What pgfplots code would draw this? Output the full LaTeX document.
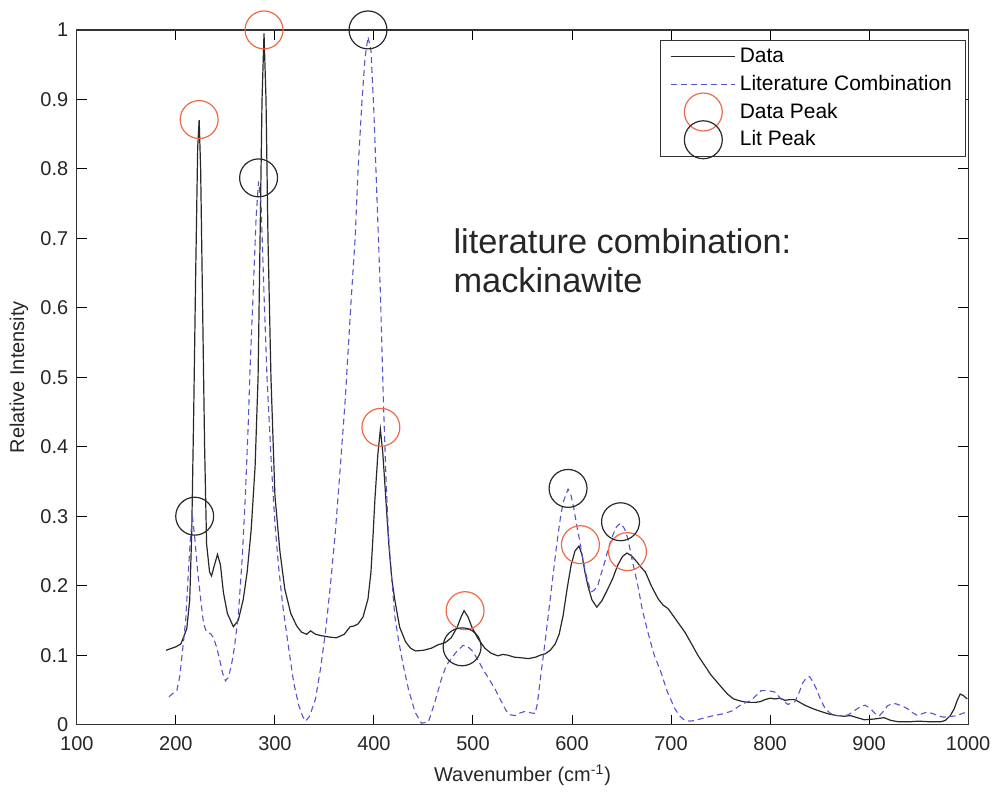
\documentclass[border=0pt]{standalone}
\usepackage{fontspec}
\setmainfont{Liberation Sans}
\usepackage{pgfplots}
\pgfplotsset{compat=1.18}
\definecolor{datac}{RGB}{40,40,40}
\definecolor{litc}{RGB}{85,85,205}
\definecolor{peakred}{RGB}{240,105,70}
\pgfplotsset{
  linelegend/.style={legend image code/.code={\draw[##1] (0pt,0pt) -- (32pt,0pt);}},
  marklegend/.style={legend image code/.code={\draw[overlay, mark repeat=2, mark phase=2, ##1] plot coordinates {(0pt,0pt) (16pt,0pt) (32pt,0pt)};\coordinate (la) at (0pt,0pt);\coordinate (lb) at (32pt,0pt);}},
}
\begin{document}
\begin{tikzpicture}
\begin{axis}[
  scale only axis, width=446.5pt, height=348pt, at={(0,0)}, anchor=south west,
  xmin=100, xmax=1000, ymin=0, ymax=1,
  xtick={100,200,300,400,500,600,700,800,900,1000},
  xticklabels={100,200,300,400,500,600,700,800,900,1000},
  ytick={0,0.1,0.2,0.3,0.4,0.5,0.6,0.7,0.8,0.9,1},
  yticklabels={0,0.1,0.2,0.3,0.4,0.5,0.6,0.7,0.8,0.9,1},
  /pgf/number format/assume math mode=true,
  /pgf/number format/1000 sep={},
  tick align=inside, major tick length=5pt,
  tick style={black, line width=0.5pt},
  axis line style={black!80, line width=0.6pt},
  tick label style={font=\fontsize{10}{12}\selectfont, black!85},
  xticklabel style={yshift=-2.5pt},
  yticklabel style={xshift=-0.8pt},
  every axis x label/.style={at={(axis description cs:0.5,-0.073)}, anchor=center},
  every axis y label/.style={at={(axis description cs:-0.065,0.5)}, rotate=90, anchor=center},
  label style={font=\fontsize{10}{12}\selectfont, black!85},
  xlabel={Wavenumber (cm\textsuperscript{-1})},
  ylabel={Relative Intensity},
  legend style={at={(0.998,0.986)}, anchor=north east, draw=black!80, line width=0.5pt,
    font=\fontsize{10.5}{12}\selectfont, inner xsep=5pt, inner ysep=2pt,
    row sep=0.8pt, cells={anchor=west, inner xsep=4pt}},
  legend cell align=left,
]
\addplot[datac, line width=0.6pt, linelegend] coordinates {
(190,0.107) (200,0.112) (205,0.116) (211,0.138) (214,0.18) (216,0.277) (218,0.45) (220,0.65) (222,0.83) (223.5,0.87) (225,0.80) (227,0.6) (229,0.4) (231,0.26) (234,0.22) (236,0.214) (239,0.23) (242,0.245) (245,0.23) (248,0.19) (252,0.16) (258,0.141) (263,0.15) (268,0.18) (272,0.22) (276,0.28) (280,0.372) (283,0.5) (285,0.7) (287,0.9) (289,0.995) (291,0.9) (293,0.7) (296,0.5) (300,0.33) (305,0.25) (310,0.195) (316,0.16) (322,0.142) (327,0.133) (332,0.13) (336,0.135) (341,0.13) (347,0.128) (355,0.126) (362,0.125) (370,0.13) (376,0.141) (380,0.142) (384,0.145) (389,0.155) (394,0.181) (397,0.22) (399,0.27) (401,0.325) (404,0.39) (406.5,0.425) (409,0.39) (412,0.325) (415,0.26) (418,0.21) (421,0.18) (426,0.14) (432,0.119) (437,0.11) (442,0.106) (450,0.107) (458,0.11) (465,0.115) (472,0.118) (478,0.125) (484,0.14) (488,0.155) (491,0.164) (495,0.155) (499,0.14) (505,0.124) (512,0.11) (518,0.103) (525,0.099) (530,0.101) (535,0.1) (542,0.097) (550,0.096) (556,0.095) (563,0.097) (568,0.1) (573,0.102) (578,0.107) (583,0.116) (587,0.13) (591,0.157) (595,0.195) (599,0.229) (603,0.25) (607,0.257) (610,0.245) (613,0.22) (616,0.2) (620,0.18) (625,0.169) (630,0.178) (636,0.195) (641,0.21) (646,0.229) (651,0.242) (655.5,0.247) (660,0.243) (665,0.235) (670,0.226) (674,0.22) (680,0.2) (687,0.181) (692,0.172) (697,0.167) (703,0.155) (709,0.143) (714,0.133) (720,0.118) (727,0.1) (734,0.085) (740,0.072) (746,0.062) (752,0.052) (757,0.044) (763,0.037) (770,0.034) (777,0.032) (785,0.032) (790,0.033) (795,0.036) (800,0.038) (805,0.037) (810,0.038) (815,0.035) (820,0.036) (825,0.036) (830,0.032) (835,0.028) (843,0.023) (851,0.019) (860,0.015) (868,0.013) (875,0.012) (881,0.013) (888,0.01) (895,0.007) (905,0.008) (915,0.01) (922,0.006) (930,0.004) (940,0.004) (950,0.005) (962,0.004) (972,0.004) (977,0.006) (982,0.013) (986,0.023) (989,0.035) (992,0.044) (995,0.042) (999,0.037)
};
\addlegendentry{Data}
\addplot[litc, line width=0.55pt, dash pattern=on 3pt off 2pt, linelegend] coordinates {
(193,0.04) (197,0.045) (201,0.049) (204,0.07) (207,0.11) (210,0.152) (213,0.23) (215,0.275) (217,0.296) (219,0.27) (222,0.22) (225,0.181) (228,0.145) (231,0.133) (235,0.131) (238,0.125) (241,0.112) (244,0.095) (247,0.075) (250,0.063) (253,0.068) (256,0.085) (259,0.11) (263,0.157) (267,0.24) (270,0.325) (273,0.43) (275,0.516) (278,0.62) (281,0.73) (283.5,0.782) (286,0.75) (289,0.62) (292,0.5) (296.5,0.372) (300,0.29) (303.6,0.229) (308,0.17) (314,0.109) (319,0.06) (324,0.028) (328,0.012) (331,0.005) (335,0.012) (341,0.037) (346,0.08) (351,0.133) (356,0.2) (361,0.277) (366,0.37) (371,0.468) (377,0.612) (381,0.7) (384,0.8) (388,0.9) (391,0.96) (394,0.99) (397,0.97) (400,0.88) (403,0.76) (406.5,0.622) (409.5,0.468) (412,0.36) (414.5,0.277) (418,0.21) (421,0.157) (425,0.12) (429.6,0.085) (435,0.05) (441.5,0.018) (448,0.002) (455,0.004) (461,0.03) (468,0.065) (473,0.085) (478,0.095) (484,0.106) (490,0.114) (495,0.112) (500,0.105) (505,0.093) (510,0.08) (516,0.066) (522,0.052) (528,0.035) (533.5,0.02) (538,0.014) (542.5,0.013) (548,0.017) (552.6,0.019) (558,0.017) (562.7,0.016) (565,0.03) (567.7,0.062) (572,0.11) (576,0.157) (580,0.205) (584,0.253) (588,0.295) (591,0.32) (596,0.339) (599,0.33) (602,0.31) (605,0.285) (608,0.263) (611,0.238) (614.5,0.214) (619,0.191) (622,0.193) (626,0.2) (629,0.215) (633,0.234) (637,0.255) (641,0.272) (645,0.285) (649,0.29) (653,0.282) (656.5,0.267) (661,0.235) (666.5,0.2) (671,0.165) (676.6,0.133) (683,0.1) (689.7,0.076) (696,0.048) (703.8,0.023) (709,0.012) (714,0.006) (719,0.005) (724,0.006) (732,0.009) (740,0.012) (747,0.014) (754,0.016) (762,0.02) (770,0.028) (776,0.032) (781,0.035) (786,0.042) (791,0.049) (797.6,0.049) (804.6,0.047) (811,0.037) (818,0.029) (825,0.033) (829,0.045) (833,0.06) (837,0.068) (840,0.069) (843,0.062) (846.6,0.052) (851,0.036) (855.6,0.023) (861,0.016) (866,0.013) (873,0.013) (879,0.014) (885,0.02) (891.5,0.026) (896,0.028) (901.4,0.023) (906,0.016) (910.5,0.013) (915,0.02) (918.5,0.027) (923,0.03) (927,0.03) (933,0.027) (938.7,0.023) (944,0.017) (949,0.013) (954,0.016) (959,0.018) (964,0.016) (969,0.013) (974,0.011) (979,0.011) (984,0.012) (989,0.013) (994,0.016) (999,0.018)
};
\addlegendentry{Literature Combination}
\addplot[only marks, mark=o, mark size=9.5pt, peakred, mark options={line width=0.6pt}, marklegend] coordinates {
(223.5,0.871) (289,1.0) (407,0.428) (492,0.164) (608.5,0.259) (656,0.249)
};
\addlegendentry{Data Peak}
\addplot[only marks, mark=o, mark size=9.5pt, datac, mark options={line width=0.6pt}, marklegend] coordinates {
(219,0.3) (283.5,0.787) (394,1.0) (489,0.112) (596,0.34) (649,0.292)
};
\addlegendentry{Lit Peak}
\node[anchor=north west, align=left, inner sep=0pt, font=\fontsize{17.2}{19.5}\selectfont, black!85] at (axis cs:480,0.714) {literature combination:\\mackinawite};
\end{axis}
\path (-38.5pt,-31pt) rectangle (460pt,363pt);
\end{tikzpicture}
\end{document}
